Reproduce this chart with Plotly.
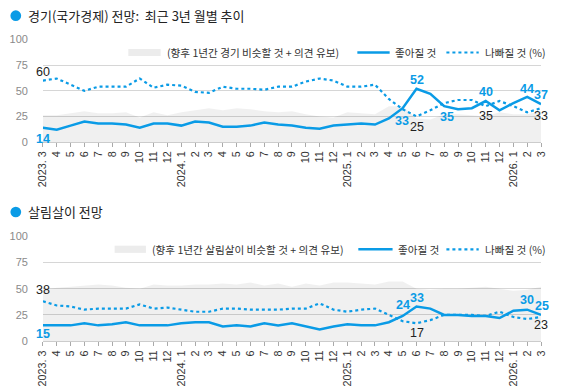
import plotly.graph_objects as go

# ---------------- data ----------------
months = ["2023. 3", "4", "5", "6", "7", "8", "9", "10", "11", "12",
          "2024. 1", "2", "3", "4", "5", "6", "7", "8", "9", "10", "11", "12",
          "2025. 1", "2", "3", "4", "5", "6", "7", "8", "9", "10", "11", "12",
          "2026. 1", "2", "3"]

econ_better = [14, 12, 16, 20, 18, 18, 17, 14, 18, 18, 16, 20, 19,
               15, 15, 16, 19, 17, 16, 14, 13, 16, 17, 18, 17,
               23, 33, 52, 47, 35, 32, 33, 40, 31, 38, 44, 37]
econ_worse = [60, 62, 56, 50, 54, 54, 54, 62, 53, 56, 55, 49, 48,
              54, 52, 52, 51, 54, 54, 59, 62, 60, 54, 54, 56,
              42, 32, 25, 31, 38, 41, 41, 35, 40, 35, 29, 33]
econ_same = [26, 26, 28, 30, 28, 28, 29, 24, 29, 26, 29, 31, 33,
             31, 33, 32, 30, 29, 30, 27, 25, 24, 29, 28, 27,
             35, 35, 23, 22, 27, 27, 26, 25, 29, 27, 27, 30]

life_better = [15, 15, 15, 17, 15, 16, 18, 15, 15, 15, 17, 18, 18,
               14, 15, 14, 17, 15, 17, 14, 11, 14, 16, 15, 15,
               18, 24, 33, 31, 25, 25, 24, 24, 22, 29, 30, 25]
life_worse = [38, 34, 33, 30, 31, 31, 31, 35, 31, 32, 30, 28, 28,
              31, 31, 30, 30, 30, 31, 31, 36, 30, 28, 30, 31,
              25, 19, 17, 20, 25, 25, 25, 24, 28, 23, 21, 23]
life_same = [49, 51, 52, 53, 54, 53, 51, 50, 54, 53, 53, 54, 54,
             55, 54, 56, 53, 55, 52, 55, 53, 56, 56, 55, 54,
             57, 57, 50, 49, 50, 50, 51, 52, 50, 48, 49, 52]

title1 = "경기(국가경제) 전망:  최근 3년 월별 추이"
title2 = "살림살이 전망"
legend_same1 = "(향후 1년간 경기 비슷할 것 + 의견 유보)"
legend_same2 = "(향후 1년간 살림살이 비슷할 것 + 의견 유보)"
legend_better = "좋아질 것"
legend_worse = "나빠질 것 (%)"

# labelled points: (index, series, yshift, xshift)
econ_labels = [(0, "w", 9, 0), (0, "b", -11, 0), (26, "b", -13, -1), (27, "b", 9, 0),
               (27, "w", -11, 0), (29, "b", -11, 3), (32, "b", 9, 0), (32, "w", -10, 0),
               (35, "b", 8, 0), (36, "b", 9, 0), (36, "w", -8, 0)]
life_labels = [(0, "w", 11, 0), (0, "b", -9, 0), (26, "b", 11, 0), (27, "b", 9, 0),
               (27, "w", -10, 0), (35, "b", 10, 0), (36, "b", 9, 1), (36, "w", -8, 0)]

# ---------------- style ----------------
W, H = 563, 390
BLUE = "#0A9BE6"
FILL = "rgba(0,0,0,0.06)"
GRID = "#d6d6d6"
KR = "Noto Sans CJK KR"
NUM = "Liberation Sans"

def px(x):
    return x / W

def py(y):
    return (H - y) / H

xs = list(range(len(months)))

fig = go.Figure()

panels = [
    ("x", "y", econ_same, econ_better, econ_worse, econ_labels),
    ("x2", "y2", life_same, life_better, life_worse, life_labels),
]

annotations = []
for xa, ya, same, better, worse, labels in panels:
    fig.add_trace(go.Scatter(x=xs, y=same, xaxis=xa, yaxis=ya, mode="lines",
                             line=dict(width=0), fill="tozeroy", fillcolor=FILL,
                             hoverinfo="skip", showlegend=False))
    fig.add_trace(go.Scatter(x=xs, y=worse, xaxis=xa, yaxis=ya, mode="lines",
                             line=dict(color=BLUE, width=2.2, dash="dot"),
                             cliponaxis=False, showlegend=False))
    fig.add_trace(go.Scatter(x=xs, y=better, xaxis=xa, yaxis=ya, mode="lines",
                             line=dict(color=BLUE, width=2.5),
                             cliponaxis=False, showlegend=False))
    for i, s, ys, xsft in labels:
        v = better[i] if s == "b" else worse[i]
        annotations.append(dict(
            x=i, y=v, xref=xa, yref=ya, text=str(v), showarrow=False,
            xanchor="center", yanchor="middle", yshift=ys, xshift=xsft,
            font=dict(family=NUM, size=12.5,
                      color=BLUE if s == "b" else "#222222",
                      weight="bold" if s == "b" else "normal")))

# axes
xdom = [px(37.7), px(546.7)]
ydom1 = [py(140.3), py(34.7)]
ydom2 = [py(345.7), py(237.7)]

xcommon = dict(range=[0, 36], tickmode="array", tickvals=xs, ticktext=months,
               tickangle=-90, ticks="outside", ticklen=4, tickcolor="#aaaaaa",
               showgrid=False, zeroline=False, showline=True, linecolor="#cccccc",
               tickfont=dict(family=NUM, size=10.8, color="#333333"), domain=xdom,
               fixedrange=True)
ycommon = dict(range=[0, 100], tickvals=[0, 25, 50, 75, 100], showgrid=True,
               gridcolor=GRID, gridwidth=1, zeroline=False, showline=False,
               ticks="", ticklabelstandoff=14,
               tickfont=dict(family=NUM, size=11, color="#8a8a8a"), fixedrange=True)

fig.update_layout(
    xaxis=dict(**xcommon, anchor="y"),
    yaxis=dict(**ycommon, domain=ydom1, anchor="x"),
    xaxis2=dict(**xcommon, anchor="y2"),
    yaxis2=dict(**ycommon, domain=ydom2, anchor="x2"),
)

# titles, bullets and hand-built legends
shapes = []
for ty, title in [(10, title1), (212.5, title2)]:
    shapes.append(dict(type="circle", xref="paper", yref="paper",
                       x0=px(4.5), x1=px(15.5), y0=py(ty + 5.5), y1=py(ty - 5.5),
                       fillcolor=BLUE, line=dict(width=0)))
    annotations.append(dict(x=px(20), y=py(ty), xref="paper", yref="paper",
                            text=title, showarrow=False, xanchor="left",
                            yanchor="middle",
                            font=dict(family=KR, size=13, color="#222222")))

legends = [
    (48, 125, 158, 162, legend_same1, 359, 392, 395, 450, 483, 487),
    (251, 111, 143, 147, legend_same2, 360, 395, 398, 450, 483, 487),
]
for ly, gx0, gx1, gt, gtext, sx0, sx1, st, dx0, dx1, dt in legends:
    shapes.append(dict(type="rect", xref="paper", yref="paper",
                       x0=px(gx0), x1=px(gx1), y0=py(ly + 3.7), y1=py(ly - 3.7),
                       fillcolor="#ececec", line=dict(width=0)))
    shapes.append(dict(type="line", xref="paper", yref="paper",
                       x0=px(sx0), x1=px(sx1), y0=py(ly), y1=py(ly),
                       line=dict(color=BLUE, width=2.5)))
    shapes.append(dict(type="line", xref="paper", yref="paper",
                       x0=px(dx0), x1=px(dx1), y0=py(ly), y1=py(ly),
                       line=dict(color=BLUE, width=2.2, dash="dot")))
    for tx, txt in [(gt, gtext), (st, legend_better), (dt, legend_worse)]:
        annotations.append(dict(x=px(tx), y=py(ly), xref="paper", yref="paper",
                                text=txt, showarrow=False, xanchor="left",
                                yanchor="middle",
                                font=dict(family=KR, size=10.6, color="#333333")))

fig.update_layout(
    width=W, height=H, margin=dict(l=0, r=0, t=0, b=0),
    paper_bgcolor="white", plot_bgcolor="white",
    showlegend=False, annotations=annotations, shapes=shapes,
)

fig.write_html("out.html", config={"displayModeBar": False},
               post_script="document.body.style.margin='0';"
                           "document.body.style.overflow='hidden';")
